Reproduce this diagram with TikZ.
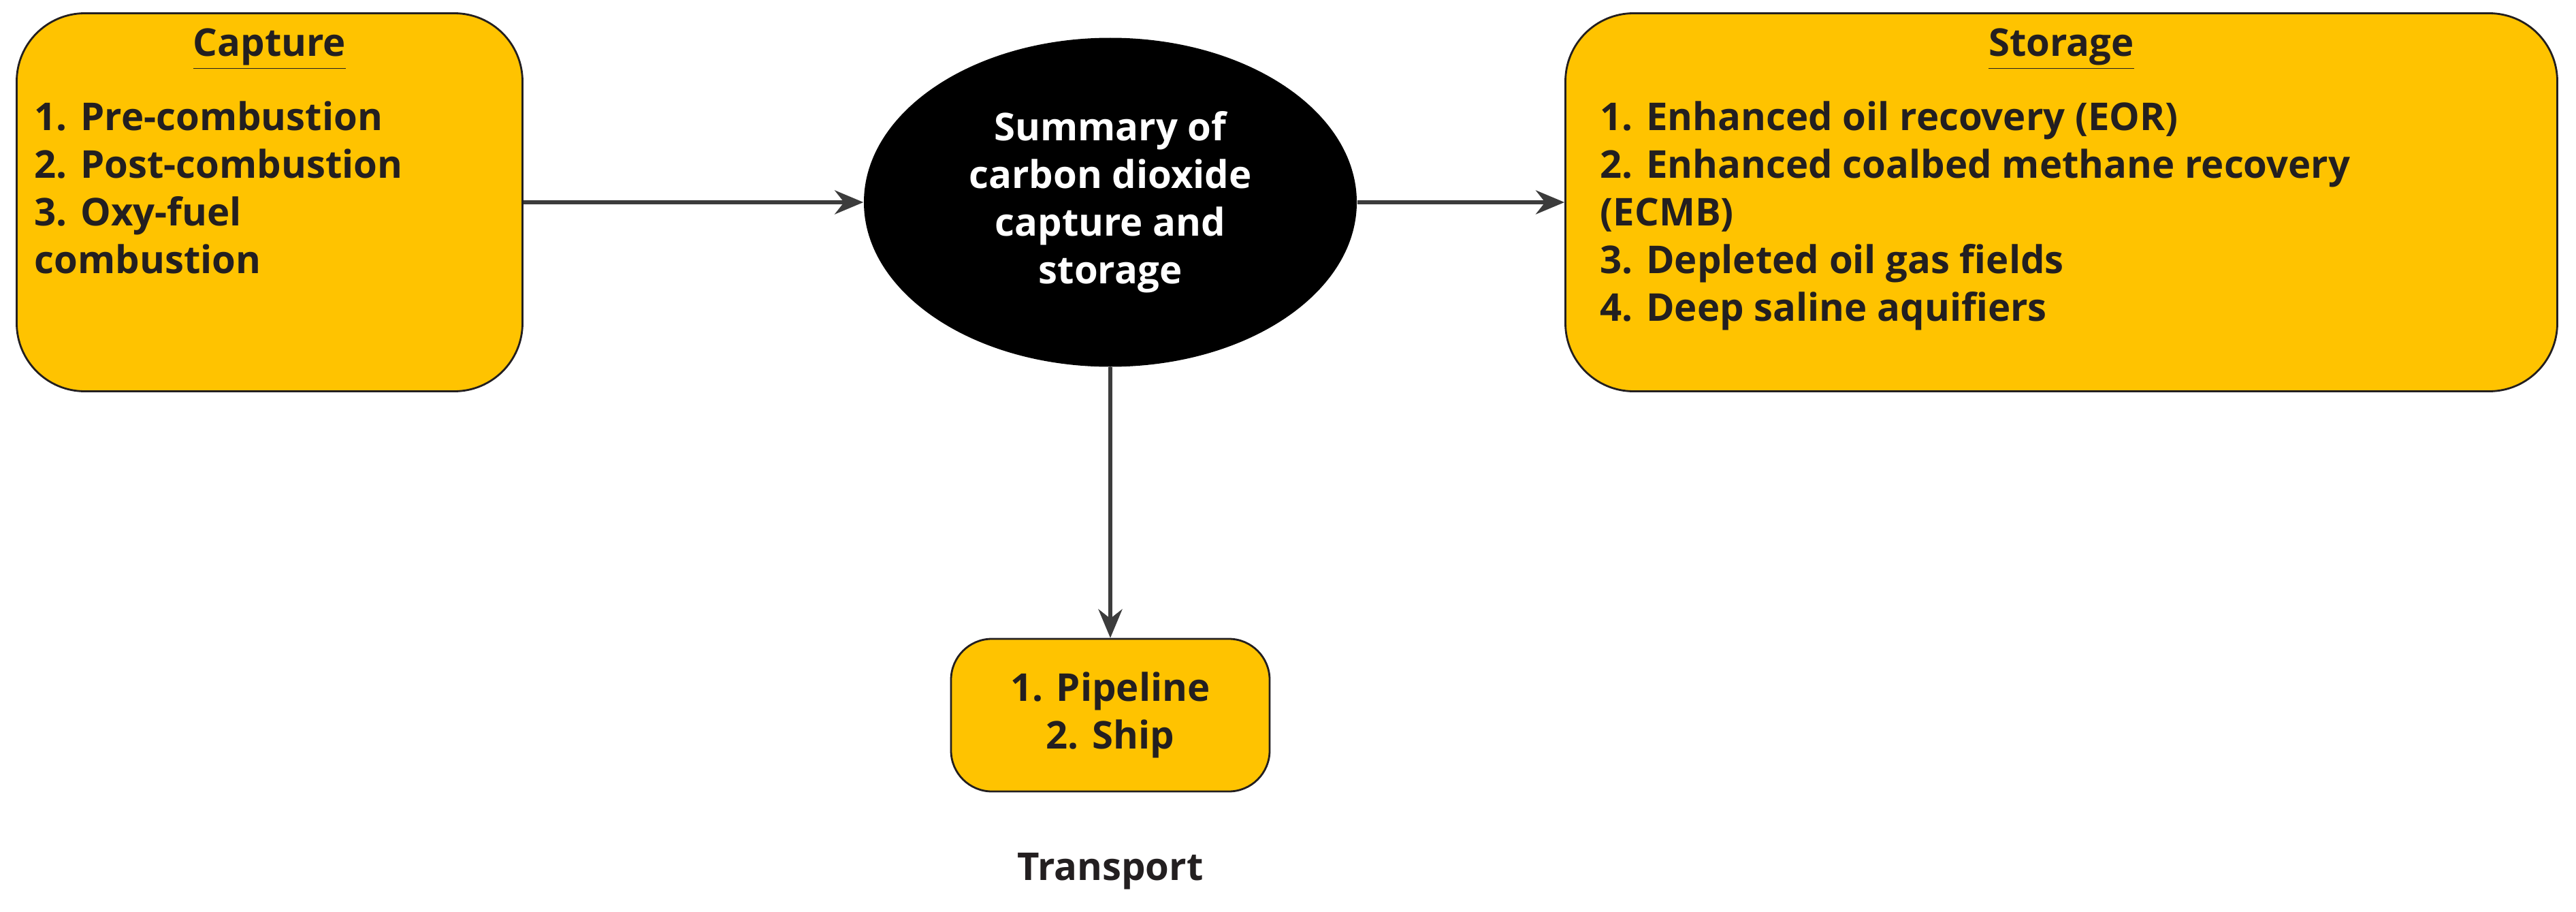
\documentclass[tikz,border=0pt]{standalone}
\usepackage{fontspec}
\setmainfont{Open Sans}
\usetikzlibrary{shapes.geometric,arrows.meta}
\definecolor{boxfill}{HTML}{FFC300}
\definecolor{textdark}{HTML}{231F20}
\definecolor{arrowgray}{HTML}{3C3C3C}

\begin{document}
\begin{tikzpicture}[
    box/.style={draw=textdark, thick, fill=boxfill, rounded corners=1cm},
    item/.style={text=textdark, font=\fontsize{16}{19.9}\selectfont\bfseries, align=left, inner sep=0pt},
    title/.style={text=textdark, font=\fontsize{16}{19.9}\selectfont\bfseries, inner sep=0pt},
    flow/.style={draw=arrowgray, line width=1.5pt, -{Stealth[length=12pt,width=10pt]}}
  ]
    \useasboundingbox (0,0) rectangle (37.84,13.38);
    \node[box, minimum width=7.43cm, minimum height=5.55cm] (capture) at (3.96,10.41) {};
    \node[box, minimum width=14.57cm, minimum height=5.55cm] (storage) at (30.28,10.41) {};
    \node[box, minimum width=4.68cm, minimum height=2.24cm, rounded corners=0.6cm] (transport) at (16.31,2.88) {};
    \node[ellipse, fill=black, minimum width=7.24cm, minimum height=4.83cm] (summary) at (16.31,10.41) {};
    \node[text=white, font=\fontsize{16}{19.9}\selectfont\bfseries, align=center] (summarytext) at (summary) {Summary of\\carbon dioxide\\capture and\\storage};

    \node[title] (capturetitle) at (3.96,12.66) {\underline{Capture}};
    \node[item, anchor=north west] (capturelist) at (0.5,11.9)
      {1. Pre-combustion\\2. Post-combustion\\3. Oxy-fuel\\combustion};
    \node[title] (storagetitle) at (30.28,12.66) {\underline{Storage}};
    \node[item, anchor=north west] (storagelist) at (23.5,11.9)
      {1. Enhanced oil recovery (EOR)\\2. Enhanced coalbed methane recovery\\(ECMB)\\3. Depleted oil gas fields\\4. Deep saline aquifiers};
    \node[item, align=center] (transportlist) at (transport) {1. Pipeline\\2. Ship};
    \node[title] (transportlabel) at (16.31,0.59) {Transport};

    \draw[flow] (capture) -- (summary);
    \draw[flow] (summary) -- (storage);
    \draw[flow] (summary) -- (transport);
\end{tikzpicture}
\end{document}
